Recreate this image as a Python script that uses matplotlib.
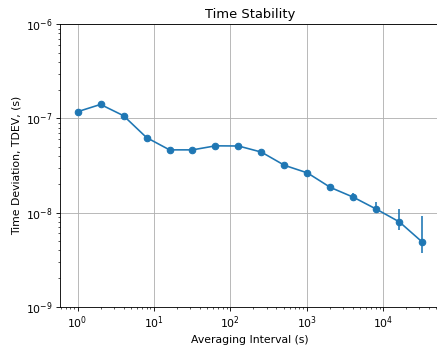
import matplotlib

matplotlib.use("Agg")
import matplotlib.pyplot as plt

# averaging intervals (s) and TDEV (s)
taus = [1, 2, 4, 8, 16, 32, 64, 128, 256, 512, 1024, 2048, 4096, 8192, 16384, 32768]
tdev = [1.18e-7, 1.41e-7, 1.07e-7, 6.27e-8, 4.64e-8, 4.64e-8, 5.12e-8, 5.1e-8,
        4.39e-8, 3.18e-8, 2.64e-8, 1.85e-8, 1.456e-8, 1.087e-8, 7.96e-9, 4.85e-9]
# asymmetric confidence interval (lower, upper)
err_lo = [2e-9, 2.5e-9, 2e-9, 1.3e-9, 1e-9, 1.1e-9, 1.3e-9, 1.5e-9,
          1.5e-9, 1.2e-9, 1.1e-9, 0.9e-9, 1.0e-9, 1.0e-9, 1.41e-9, 1.15e-9]
err_hi = [3e-9, 4e-9, 3e-9, 2e-9, 1.6e-9, 1.8e-9, 2.2e-9, 2.6e-9,
          2.6e-9, 2.2e-9, 2.0e-9, 1.6e-9, 1.5e-9, 2.1e-9, 3.07e-9, 4.37e-9]

DPI = 78
fig = plt.figure(figsize=(438 / DPI, 349 / DPI), dpi=DPI)
ax = fig.add_axes([0.1377, 0.1212, 0.866, 0.809])
ax.errorbar(taus, tdev, yerr=[err_lo, err_hi], marker="o", color="C0",
            markersize=6, linewidth=1.5)
ax.set_xscale("log")
ax.set_yscale("log")
ax.set_ylim(1e-9, 1e-6)
ax.set_xlabel("Averaging Interval (s)")
ax.set_ylabel("Time Deviation, TDEV, (s)")
ax.set_title("Time Stability")
ax.grid(True)
fig.savefig("out.png", dpi=DPI)
